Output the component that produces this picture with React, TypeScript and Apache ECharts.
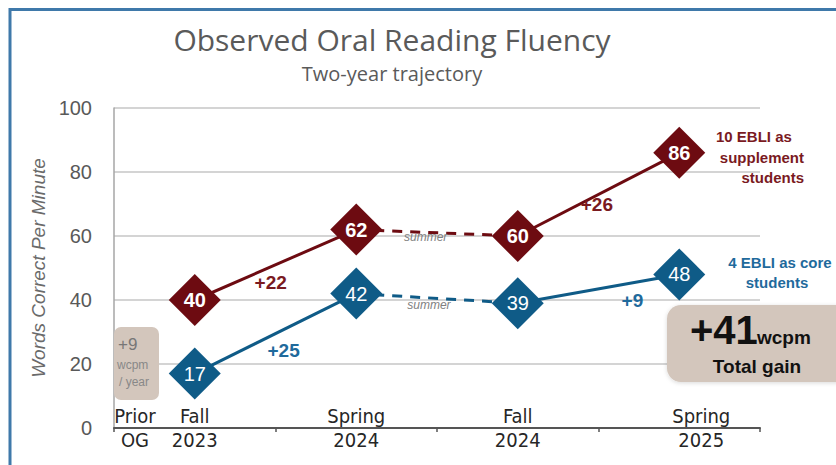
import React, { useEffect, useRef } from "react";
import * as echarts from "echarts";

const termNames = ["Fall", "Spring", "Fall", "Spring"];
const yearNames = ["2023", "2024", "2024", "2025"];
const supplementValues = [40, 62, 60, 86];
const coreValues = [17, 42, 39, 48];
const segmentStyles = ["solid", "dashed", "solid"];
const yMin = 0;
const yMax = 100;
const yInterval = 20;

// annotation positions (x in category units, y in wcpm)
const supplementGains = [
  { text: "+22", x: 0.47, y: 45.6 },
  { text: "+26", x: 2.49, y: 69.7 },
];
const coreGains = [
  { text: "+25", x: 0.55, y: 24.1 },
  { text: "+9", x: 2.71, y: 39.7 },
];
const summerNotes = [
  { text: "summer", x: 1.43, y: 59.7 },
  { text: "summer", x: 1.45, y: 38.4 },
];

const RED = "#6d0b11";
const BLUE = "#0f5b87";
const RED_TEXT = "#7a1a1f";
const BLUE_TEXT = "#1f6a9c";
const BOX = "#d3c6bc";
const NARROW = '"Liberation Sans Narrow", "DejaVu Sans Condensed", Roboto, sans-serif';
const SANS = '"Liberation Sans", Arial, sans-serif';
const TITLE_FONT = '"Open Sans", Roboto, sans-serif';

function segments(values: number[], color: string, name: string) {
  return segmentStyles.map((style, i) => ({
    type: "line",
    name: name + "-seg" + i,
    xAxisIndex: 0,
    yAxisIndex: 0,
    data: values.map((v, j) => (j === i || j === i + 1 ? v : "-")),
    symbol: "none",
    connectNulls: false,
    lineStyle: {
      color,
      width: 3,
      type: style === "dashed" ? [10, 8] : "solid",
    },
    z: 3,
  }));
}

function markers(values: number[], color: string, bold: boolean) {
  return {
    type: "scatter",
    xAxisIndex: 0,
    yAxisIndex: 0,
    data: values,
    symbol: "diamond",
    symbolSize: 52,
    itemStyle: { color, opacity: 1 },
    label: {
      show: true,
      position: "inside",
      color: "#ffffff",
      fontFamily: SANS,
      fontSize: 20,
      fontWeight: bold ? "bold" : "normal",
    },
    z: 5,
  };
}

function notes(items: { text: string; x: number; y: number }[], style: any) {
  return {
    type: "scatter",
    xAxisIndex: 1,
    yAxisIndex: 0,
    data: items.map((it) => ({ name: it.text, value: [it.x, it.y] })),
    symbolSize: 0,
    silent: true,
    itemStyle: { opacity: 1 },
    label: {
      show: true,
      position: "inside",
      opacity: 1,
      formatter: (p: any) => p.name,
      ...style,
    },
    z: 6,
  };
}

export default function App() {
  const ref = useRef<HTMLDivElement>(null);

  useEffect(() => {
    document.body.style.margin = "0";
    if (!ref.current) return;
    const chart = echarts.init(ref.current, null, { renderer: "svg" });
    const last = termNames.length - 1;
    const option: any = {
      animation: false,
      backgroundColor: "#ffffff",
      title: [
        {
          text: "Observed Oral Reading Fluency",
          left: 392,
          top: 23,
          textAlign: "center",
          padding: 0,
          textStyle: {
            fontFamily: TITLE_FONT,
            fontWeight: "normal",
            fontSize: 30,
            lineHeight: 33,
            color: "#5a5a5a",
          },
        },
        {
          text: "Two-year trajectory",
          left: 392,
          top: 62,
          textAlign: "center",
          padding: 0,
          textStyle: {
            fontFamily: TITLE_FONT,
            fontWeight: "normal",
            fontSize: 20,
            lineHeight: 22,
            color: "#5a5a5a",
          },
        },
      ],
      grid: { left: 114, right: 76, top: 108, bottom: 37, containLabel: false },
      xAxis: [
        {
          type: "category",
          data: termNames.map((t, i) => t + " " + yearNames[i]),
          boundaryGap: true,
          axisLine: { show: true, lineStyle: { color: "#555555", width: 2 } },
          axisTick: { show: true, length: 4, lineStyle: { color: "#555555", width: 1.5 } },
          axisLabel: {
            margin: -24,
            interval: 0,
            formatter: (_v: string, i: number) =>
              i === last
                ? `{tl|${termNames[i]}}\n{yl|${yearNames[i]}}`
                : `{t|${termNames[i]}}\n{y|${yearNames[i]}}`,
            rich: {
              t: { fontFamily: NARROW, fontSize: 20, lineHeight: 24, color: "#262626" },
              y: { fontFamily: NARROW, fontSize: 20, lineHeight: 24, color: "#262626" },
              tl: { fontFamily: NARROW, fontSize: 20, lineHeight: 24, color: "#262626", padding: [0, 0, 0, 44] },
              yl: { fontFamily: NARROW, fontSize: 20, lineHeight: 24, color: "#262626", padding: [0, 0, 0, 44] },
            },
          },
          splitLine: { show: false },
        },
        {
          type: "value",
          min: -0.5,
          max: 3.5,
          show: false,
          axisLine: { onZero: false },
          splitLine: { show: false },
        },
      ],
      yAxis: {
        type: "value",
        min: yMin,
        max: yMax,
        interval: yInterval,
        name: "Words Correct Per Minute",
        nameLocation: "middle",
        nameRotate: 90,
        nameGap: 64,
        nameTextStyle: {
          fontFamily: SANS,
          fontStyle: "italic",
          fontSize: 19,
          color: "#6a6a6a",
        },
        axisLine: { show: true, onZero: false, lineStyle: { color: "#a6a6a6", width: 1.5 } },
        axisTick: { show: false },
        axisLabel: {
          margin: 22,
          fontFamily: SANS,
          fontSize: 20,
          color: "#595959",
        },
        splitLine: { show: true, lineStyle: { color: "#d4d4d4", width: 2 } },
      },
      series: [
        ...segments(supplementValues, RED, "supplement"),
        ...segments(coreValues, BLUE, "core"),
        markers(supplementValues, RED, true),
        markers(coreValues, BLUE, false),
        notes(supplementGains, { fontFamily: SANS, fontSize: 19, fontWeight: "bold", color: RED_TEXT }),
        notes(coreGains, { fontFamily: SANS, fontSize: 19, fontWeight: "bold", color: BLUE_TEXT }),
        notes(summerNotes, { fontFamily: SANS, fontSize: 12, fontStyle: "italic", color: "#808080" }),
      ],
      graphic: [
        {
          type: "rect",
          shape: { x: 10, y: 9.5, width: 900, height: 600 },
          style: { fill: "none", stroke: "#3f79aa", lineWidth: 3 },
          silent: true,
          z: 100,
        },
        // Prior OG label
        {
          type: "text",
          x: 135,
          y: 416,
          style: { text: "Prior", fontFamily: NARROW, fontSize: 20, fill: "#262626", align: "center", verticalAlign: "middle" },
        },
        {
          type: "text",
          x: 135,
          y: 440,
          style: { text: "OG", fontFamily: NARROW, fontSize: 20, fill: "#262626", align: "center", verticalAlign: "middle" },
        },
        // +9 wcpm / year box
        {
          type: "rect",
          shape: { x: 114, y: 327, width: 45, height: 73, r: 7 },
          style: { fill: BOX },
          z: 10,
        },
        {
          type: "text",
          x: 118,
          y: 344,
          z: 11,
          style: { text: "+9", fontFamily: SANS, fontSize: 17, fill: "#777777", align: "left", verticalAlign: "middle" },
        },
        {
          type: "text",
          x: 117,
          y: 365,
          z: 11,
          style: { text: "wcpm", fontFamily: SANS, fontSize: 12, fill: "#888888", align: "left", verticalAlign: "middle" },
        },
        {
          type: "text",
          x: 119,
          y: 382,
          z: 11,
          style: { text: "/ year", fontFamily: SANS, fontSize: 12, fill: "#888888", align: "left", verticalAlign: "middle" },
        },
        // +41 total gain box
        {
          type: "rect",
          shape: { x: 667, y: 305, width: 200, height: 77, r: 14 },
          style: { fill: BOX, shadowBlur: 4, shadowColor: "rgba(0,0,0,0.15)", shadowOffsetY: 1 },
          z: 10,
        },
        {
          type: "text",
          x: 690,
          y: 330,
          z: 11,
          style: { text: "+41", fontFamily: SANS, fontSize: 40, fontWeight: "bold", fill: "#111111", align: "left", verticalAlign: "middle" },
        },
        {
          type: "text",
          x: 757,
          y: 337,
          z: 11,
          style: { text: "wcpm", fontFamily: SANS, fontSize: 19, fontWeight: "bold", fill: "#111111", align: "left", verticalAlign: "middle" },
        },
        {
          type: "text",
          x: 757,
          y: 366,
          z: 11,
          style: { text: "Total gain", fontFamily: SANS, fontSize: 19, fontWeight: "bold", fill: "#111111", align: "center", verticalAlign: "middle" },
        },
        // series labels
        {
          type: "text",
          x: 716,
          y: 136,
          style: { text: "10 EBLI as", fontFamily: SANS, fontSize: 15, fontWeight: "bold", fill: RED_TEXT, align: "left", verticalAlign: "middle" },
        },
        {
          type: "text",
          x: 804,
          y: 157,
          style: { text: "supplement", fontFamily: SANS, fontSize: 15, fontWeight: "bold", fill: RED_TEXT, align: "right", verticalAlign: "middle" },
        },
        {
          type: "text",
          x: 804,
          y: 177,
          style: { text: "students", fontFamily: SANS, fontSize: 15, fontWeight: "bold", fill: RED_TEXT, align: "right", verticalAlign: "middle" },
        },
        {
          type: "text",
          x: 780,
          y: 262,
          style: { text: "4 EBLI as core", fontFamily: SANS, fontSize: 15, fontWeight: "bold", fill: BLUE_TEXT, align: "center", verticalAlign: "middle" },
        },
        {
          type: "text",
          x: 777,
          y: 282,
          style: { text: "students", fontFamily: SANS, fontSize: 15, fontWeight: "bold", fill: BLUE_TEXT, align: "center", verticalAlign: "middle" },
        },
      ],
    };
    chart.setOption(option);
    return () => chart.dispose();
  }, []);

  return (
    <div
      ref={ref}
      style={{ position: "fixed", left: 0, top: 0, width: 836, height: 465 }}
    />
  );
}
